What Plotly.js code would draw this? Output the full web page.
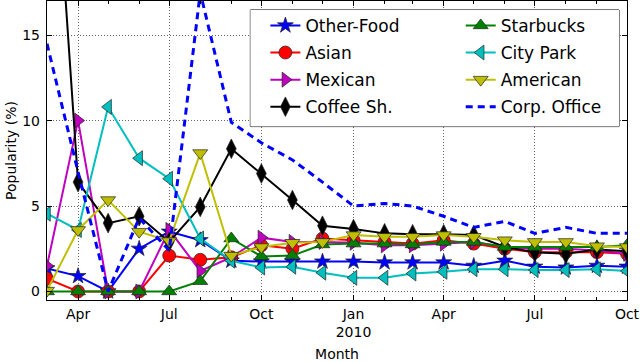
<!DOCTYPE html>
<html>
<head>
<meta charset="utf-8">
<script src="https://cdn.plot.ly/plotly-3.0.1.min.js"></script>
<style>
  html, body { margin: 0; padding: 0; background: #fff; }
  #grafico { width: 640px; height: 362px; }
</style>
</head>
<body>
<div id="grafico"></div>
<script>
// Meses (Mar 2009 .. Oct 2010)
var meses = ['2009-03-01','2009-04-01','2009-05-01','2009-06-01','2009-07-01','2009-08-01',
  '2009-09-01','2009-10-01','2009-11-01','2009-12-01','2010-01-01','2010-02-01','2010-03-01',
  '2010-04-01','2010-05-01','2010-06-01','2010-07-01','2010-08-01','2010-09-01','2010-10-01'];

// Valores (%)
var otherFood  = [1.35, 0.9, 0, 2.5, 3.5, 3.0, 1.8, 1.75, 1.75, 1.75, 1.75, 1.7, 1.7, 1.7, 1.5, 1.8, 1.45, 1.4, 1.5, 1.45];
var asian      = [0.75, 0, 0, 0, 2.1, 1.85, 2.0, 2.7, 2.5, 3.1, 3.0, 2.9, 2.8, 3.0, 2.8, 2.5, 2.3, 2.3, 2.3, 2.2];
var mexican    = [1.5, 10.0, 0, 0, 3.6, 1.2, 2.0, 3.15, 2.9, 2.9, 2.85, 2.7, 2.7, 2.8, 2.9, 2.6, 2.5, 2.5, 2.4, 2.2];
var coffee     = [33, 6.4, 4.0, 4.4, 2.9, 4.95, 8.35, 6.9, 5.35, 3.85, 3.65, 3.4, 3.35, 3.35, 3.3, 2.6, 2.3, 2.2, 2.45, 2.35];
var starbucks  = [0, 0, 0, 0, 0, 0.6, 3.1, 2.05, 2.1, 2.75, 2.8, 2.8, 2.75, 2.9, 2.9, 2.6, 2.6, 2.6, 2.6, 2.7];
var cityPark   = [4.55, 3.6, 10.8, 7.8, 6.6, 3.1, 1.8, 1.4, 1.45, 1.1, 0.8, 0.8, 1.05, 1.15, 1.3, 1.3, 1.25, 1.25, 1.3, 1.2];
var american   = [0.05, 3.6, 5.35, 3.5, 2.95, 8.1, 2.1, 2.6, 2.85, 2.9, 3.3, 3.2, 3.2, 3.3, 3.2, 3.0, 2.9, 2.9, 2.65, 2.6];
var corpOffice = [14.5, 7.0, 0, 4.3, 2.4, 17.5, 9.9, 8.7, 7.7, 6.4, 5.0, 5.15, 5.0, 4.4, 3.75, 4.1, 3.4, 3.75, 3.4, 3.4];

var tickPos = ['2009-04-01','2009-07-01','2009-10-01','2010-01-01','2010-04-01','2010-07-01','2010-10-01'];
var tickTxt = ['Apr','Jul','Oct','Jan<br>2010','Apr','Jul','Oct'];

function serie(nome, y, cor, simbolo, tam, leg){
    return {
        x: meses, y: y, name: nome, mode: 'lines+markers', legend: leg, legendgroup: nome,
        line: {color: cor, width: 2},
        marker: {symbol: simbolo, size: tam, color: cor, line: {color: '#222', width: 0.7}}
    };
}

var data = [
    serie('Other-Food', otherFood, '#0000ff', 'star', 12, 'legend'),
    serie('Asian', asian, '#ff0000', 'circle', 13, 'legend'),
    serie('Mexican', mexican, '#bf00bf', 'triangle-right', 13, 'legend'),
    serie('Coffee Sh.', coffee, '#000000', 'diamond-tall', 14, 'legend'),
    serie('Starbucks', starbucks, '#008000', 'triangle-up', 13, 'legend2'),
    serie('City Park', cityPark, '#00bfbf', 'triangle-left', 13, 'legend2'),
    serie('American', american, '#bfbf00', 'triangle-down', 13, 'legend2'),
    {x: meses, y: corpOffice, name: 'Corp. Office', mode: 'lines', legend: 'legend2', legendgroup: 'corp',
     line: {color: '#0000ff', width: 3, dash: '7px,5px'}}
];

var eixo = {
    showline: true, linecolor: '#000', linewidth: 1.2, mirror: 'allticks',
    ticks: 'inside', ticklen: 5, tickcolor: '#000',
    showgrid: true, gridcolor: 'rgba(0,0,0,0.6)', griddash: '1px,2px', gridwidth: 1,
    zeroline: false, tickfont: {size: 14, color: '#000'}
};

var legBase = {
    y: 0.977, xanchor: 'left', yanchor: 'top', orientation: 'v',
    bgcolor: 'rgba(0,0,0,0)', borderwidth: 0, tracegroupgap: 2,
    font: {size: 17, color: '#000'}
};

var layout = {
    width: 640, height: 362,
    margin: {l: 47, r: 13, t: 1, b: 62},
    font: {family: 'DejaVu Sans', color: '#000'},
    paper_bgcolor: '#fff', plot_bgcolor: '#fff',
    xaxis: Object.assign({}, eixo, {
        type: 'date', range: ['2009-03-01', '2010-10-01'],
        tickmode: 'array', tickvals: tickPos, ticktext: tickTxt, ticklabelstandoff: 1,
        minor: {ticks: 'inside', ticklen: 3, tickcolor: '#000', dtick: 'M1', tick0: '2009-01-01', showgrid: false},
        title: {text: 'Month', font: {size: 14}, standoff: 12}
    }),
    yaxis: Object.assign({}, eixo, {
        range: [-0.5, 17], tickvals: [0, 5, 10, 15], ticklabelstandoff: 3,
        title: {text: 'Popularity (%)', font: {size: 14}, standoff: 2}
    }),
    // caixa da legenda (fundo branco + borda)
    shapes: [{
        type: 'rect', xref: 'paper', yref: 'paper', layer: 'above',
        x0: (250 - 47) / 579, x1: (618 - 47) / 579, y0: 1 - 126 / 300, y1: 1 - 9 / 300,
        line: {color: '#000', width: 1}, fillcolor: 'rgba(0,0,0,0)'
    }, {
        type: 'rect', xref: 'paper', yref: 'paper', layer: 'above',
        x0: (250 - 47) / 579, x1: (618 - 47) / 579, y0: 1 - 126 / 300, y1: 1 - 9 / 300,
        line: {width: 0}, fillcolor: '#fff'
    }],
    legend: Object.assign({}, legBase, {x: (265 - 47) / 579}),
    legend2: Object.assign({}, legBase, {x: (460 - 47) / 579}),
    showlegend: true
};

Plotly.newPlot('grafico', data, layout, {staticPlot: true});
</script>
</body>
</html>
